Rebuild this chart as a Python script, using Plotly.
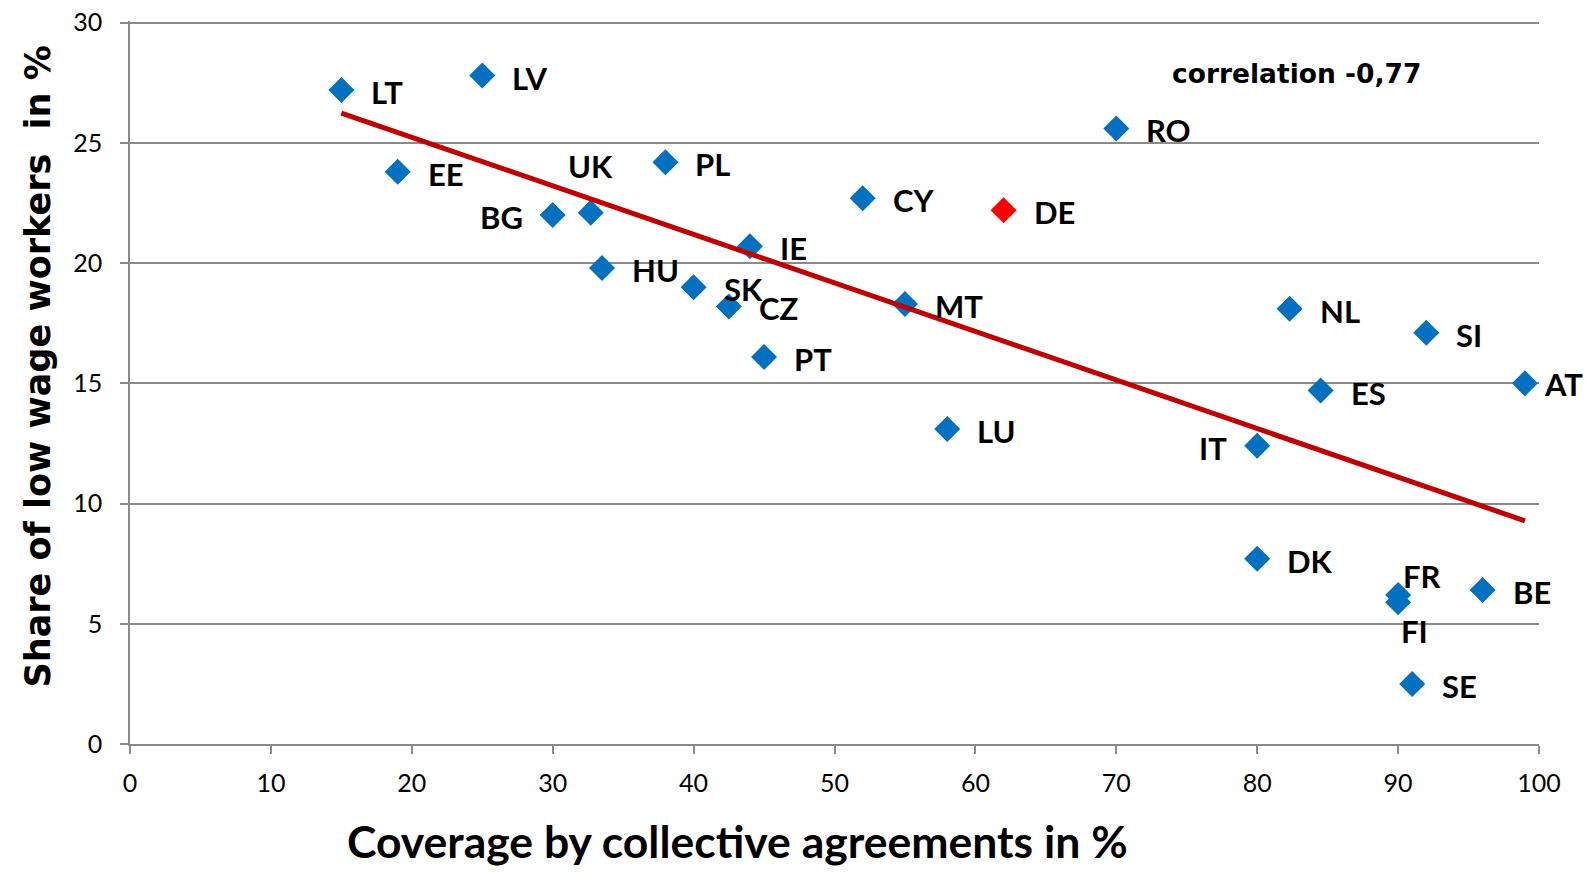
import numpy as np
import plotly.graph_objects as go

# ---- data ----
countries = ["LT", "LV", "EE", "BG", "UK", "PL", "CY", "DE", "RO", "IE", "HU", "SK", "CZ",
             "PT", "MT", "LU", "NL", "SI", "AT", "ES", "IT", "DK", "FR", "FI", "BE", "SE"]
coverage = [15.0, 25.0, 19.0, 30.0, 32.7, 38.0, 52.0, 62.0, 70.0, 44.0, 33.5, 40.0, 42.5,
            45.0, 55.0, 58.0, 82.3, 92.0, 99.0, 84.5, 80.0, 80.0, 90.0, 90.0, 96.0, 91.0]
low_wage = [27.2, 27.8, 23.8, 22.0, 22.1, 24.2, 22.7, 22.2, 25.6, 20.7, 19.8, 19.0, 18.2,
            16.1, 18.3, 13.1, 18.1, 17.1, 15.0, 14.7, 12.4, 7.7, 6.2, 5.9, 6.4, 2.5]
highlight = "DE"
correlation_text = "correlation -0,77"
x_title = "Coverage by collective agreements in %"
y_title = "Share of low wage workers  in %"
x_ticks = [0, 10, 20, 30, 40, 50, 60, 70, 80, 90, 100]
y_ticks = [0, 5, 10, 15, 20, 25, 30]

# ---- label placement (style) ----
label_side = {"BG": "left", "IT": "left", "UK": "above", "FR": "aboveright",
              "FI": "below", "AT": "rightnear"}

BLUE = "#0070C0"
RED = "#FF0000"
DARKRED = "#C00000"
GRID = "#8A8A8A"
FONT = "Lato"
FONT2 = "DejaVu Sans"

colors = [RED if c == highlight else BLUE for c in countries]

fig = go.Figure()
fig.add_trace(go.Scatter(
    x=coverage, y=low_wage, mode="markers",
    marker=dict(symbol="diamond", size=20, color=colors, line=dict(width=0)),
    hoverinfo="text", text=countries, showlegend=False, cliponaxis=False,
))

# linear trendline (OLS, as in the spreadsheet trendline)
slope, intercept = np.polyfit(coverage, low_wage, 1)
tx = np.array([min(coverage), max(coverage)])
fig.add_trace(go.Scatter(
    x=tx, y=slope * tx + intercept, mode="lines",
    line=dict(color=DARKRED, width=5), hoverinfo="skip", showlegend=False,
))

annotations = []
for c, x, y in zip(countries, coverage, low_wage):
    side = label_side.get(c, "right")
    a = dict(x=x, y=y, xref="x", yref="y", text=c, showarrow=False,
             font=dict(family=FONT, size=31, color="black", weight="bold"))
    if side == "right":
        a.update(xanchor="left", yanchor="middle", xshift=28, yshift=-2)
    elif side == "rightnear":
        a.update(xanchor="left", yanchor="middle", xshift=17, yshift=-1)
    elif side == "left":
        a.update(xanchor="right", yanchor="middle", xshift=-28, yshift=-2)
    elif side == "above":
        a.update(xanchor="center", yanchor="middle", xshift=0, yshift=47)
    elif side == "aboveright":
        a.update(xanchor="left", yanchor="middle", xshift=3, yshift=19)
    elif side == "below":
        a.update(xanchor="left", yanchor="middle", xshift=1, yshift=-29)
    annotations.append(a)

annotations.append(dict(x=82.8, y=27.9, xref="x", yref="y", text=correlation_text,
                        showarrow=False, xanchor="center", yanchor="middle",
                        font=dict(family=FONT2, size=26.5, color="black", weight="bold")))

# axis titles placed precisely in paper coordinates
annotations.append(dict(x=0.431, y=-0.134, xref="paper", yref="paper", text=x_title,
                        showarrow=False, xanchor="center", yanchor="middle",
                        font=dict(family=FONT, size=44.5, color="black", weight="bold")))
annotations.append(dict(x=-0.0654, y=0.522, xref="paper", yref="paper", text=y_title,
                        showarrow=False, xanchor="center", yanchor="middle", textangle=-90,
                        font=dict(family=FONT2, size=35, color="black", weight="bold")))

# y range extended a hair so the top gridline (30) is still drawn
fig.update_layout(
    width=1586, height=872,
    margin=dict(l=130, r=47, t=20.5, b=128, autoexpand=False),
    paper_bgcolor="white", plot_bgcolor="white",
    font=dict(family=FONT, color="black"),
    annotations=annotations,
    xaxis=dict(
        range=[0, 100], tickvals=x_ticks, ticks="outside", ticklen=8, tickcolor=GRID,
        tickwidth=1.5, showline=True, linecolor=GRID, linewidth=1.5, showgrid=False,
        zeroline=False, tickfont=dict(family=FONT, size=25, color="black"),
        ticklabelstandoff=8, automargin=False, ticklabeloverflow="allow",
    ),
    yaxis=dict(
        range=[0, 30.07], tickvals=y_ticks, ticks="outside", ticklen=8, tickcolor=GRID,
        tickwidth=1.5, showline=True, linecolor=GRID, linewidth=1.5, showgrid=True,
        gridcolor=GRID, gridwidth=1.5, zeroline=False,
        tickfont=dict(family=FONT, size=25, color="black"),
        ticklabelstandoff=13, automargin=False, ticklabeloverflow="allow",
    ),
)

# remove the default page margin so the figure fills the window exactly
fig.write_html(
    "out.html",
    config={"displayModeBar": False},
    post_script="document.body.style.margin='0';document.body.style.overflow='hidden';",
)
